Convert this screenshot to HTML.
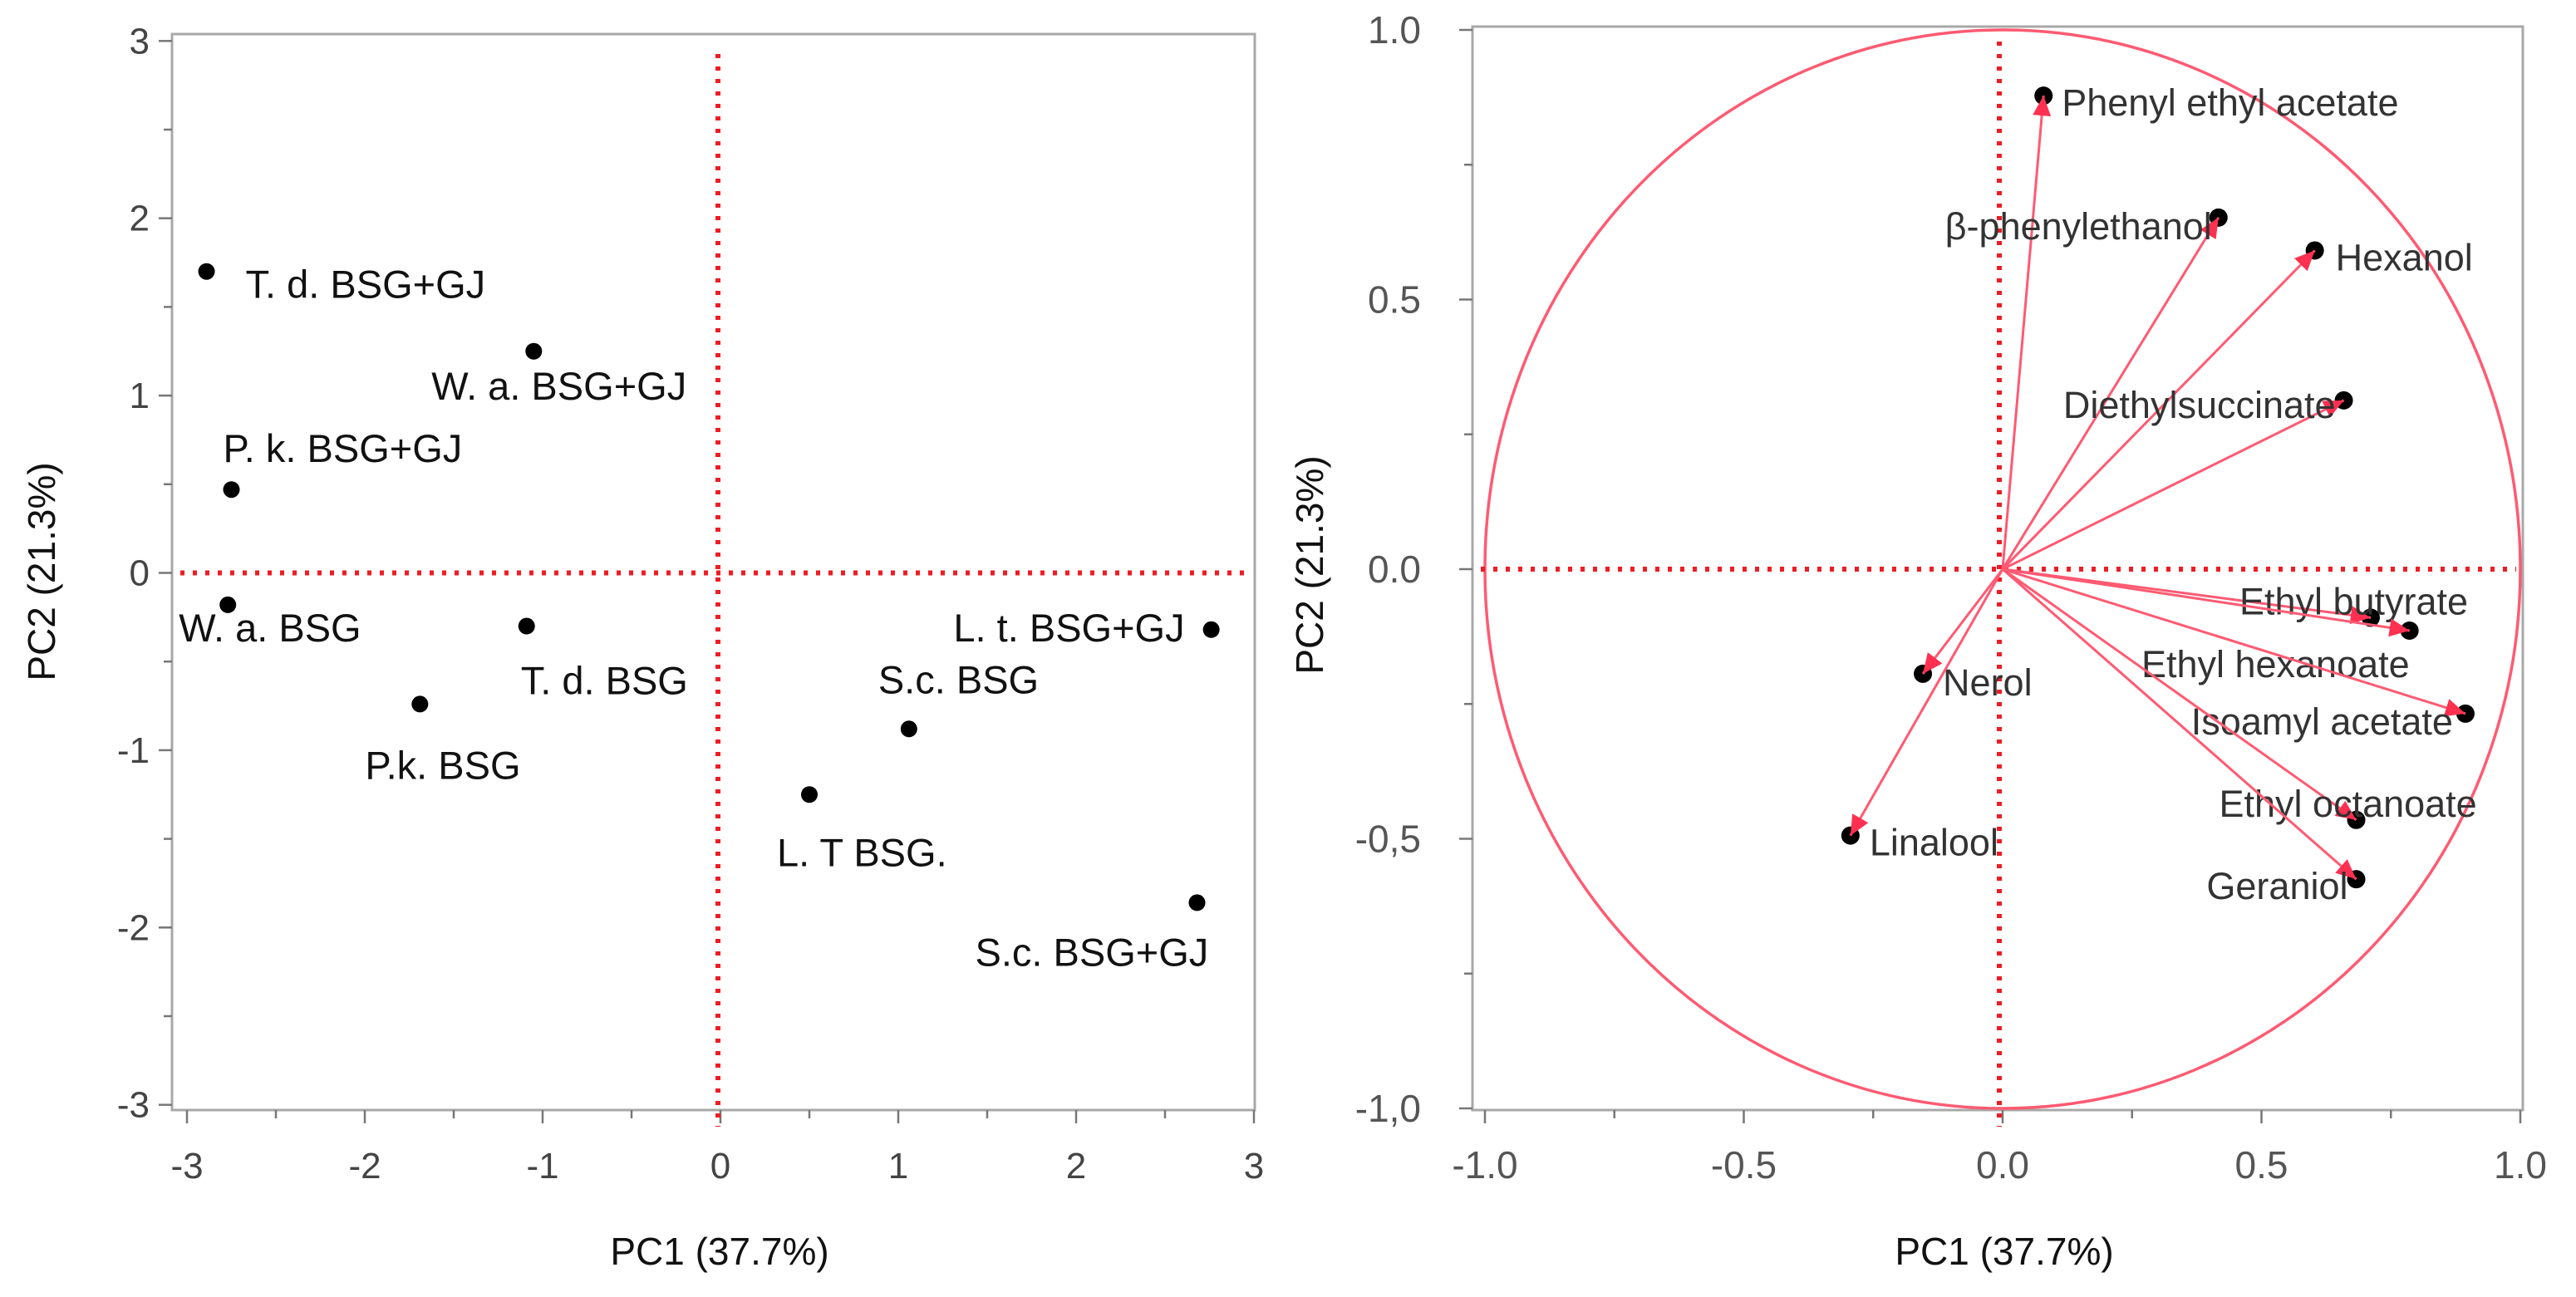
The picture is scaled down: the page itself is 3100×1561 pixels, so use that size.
<!DOCTYPE html>
<html><head><meta charset="utf-8"><style>
html,body{margin:0;padding:0;background:#fff;width:3100px;height:1561px;overflow:hidden}
svg{display:block}
text{font-family:"Liberation Sans",sans-serif}
</style></head><body>
<svg id="root" width="3100" height="1561" viewBox="0 0 3100 1561" xmlns="http://www.w3.org/2000/svg">
<g id="left"></g>
<g id="right"></g>
</svg>
<script>
// ---- Score plot data ----
const sampleNames = ["T. d. BSG+GJ","W. a. BSG+GJ","P. k. BSG+GJ","W. a. BSG","T. d. BSG","P.k. BSG","L. t. BSG+GJ","S.c. BSG","L. T BSG.","S.c. BSG+GJ"];
const samplePC1 = [-2.89,-1.05,-2.75,-2.77,-1.09,-1.69,2.76,1.06,0.50,2.68];
const samplePC2 = [1.70,1.25,0.47,-0.18,-0.30,-0.74,-0.32,-0.88,-1.25,-1.86];
const scoreTicks = [-3,-2,-1,0,1,2,3];
// ---- Loading plot data ----
const varNames = ["Phenyl ethyl acetate","β-phenylethanol","Hexanol","Diethylsuccinate","Ethyl butyrate","Ethyl hexanoate","Isoamyl acetate","Ethyl octanoate","Geraniol","Nerol","Linalool"];
const varPC1 = [0.079,0.417,0.603,0.659,0.711,0.786,0.894,0.683,0.683,-0.154,-0.294];
const varPC2 = [0.878,0.652,0.591,0.313,-0.090,-0.114,-0.268,-0.465,-0.575,-0.194,-0.494];
const loadTickVals = [-1,-0.5,0,0.5,1];
const loadXTickLabels = ["-1.0","-0.5","0.0","0.5","1.0"];
const loadYTickLabels = ["-1,0","-0,5","0.0","0.5","1.0"];

// label layout (offsets in px from marker; not data)
const sLab = [[47,16,"start"],[-123,42,"start"],[-10,-49,"start"],[-59,28,"start"],[-7,66,"start"],[-66,74,"start"],[-32,-2,"end"],[-37,-59,"start"],[-39,70,"start"],[-267,60,"start"]];
const vLab = [[22,8,"start"],[-8,10,"end"],[25,8,"start"],[-10,5,"end"],[-158,-20,"start"],[0,40,"end"],[-15,9,"end"],[-165,-20,"start"],[-10,8,"end"],[24,10,"start"],[23,8,"start"]];

const NS="http://www.w3.org/2000/svg";
function mk(parent,tag,attrs,txt){const e=document.createElementNS(NS,tag);for(const k in attrs)e.setAttribute(k,attrs[k]);if(txt!==undefined)e.textContent=txt;parent.appendChild(e);return e;}

// ---------- LEFT ----------
(function(){
const g=document.getElementById('left');
const L=207,T=41,R=1510,B=1336;
const sx=v=>867+v*214, sy=v=>689.5-v*213.4;
let fr=mk(g,'rect',{x:L,y:T,width:R-L,height:B-T,fill:'none',stroke:'#a8a8a8','stroke-width':3});


for(let v=-3;v<=3.001;v+=0.5){
  const major=Math.abs(v-Math.round(v))<1e-6;
  mk(g,'line',{x1:sx(v),x2:sx(v),y1:B,y2:B+(major?16:10),stroke:'#777','stroke-width':2.5});
  mk(g,'line',{y1:sy(v),y2:sy(v),x1:L,x2:L-(major?16:10),stroke:'#777','stroke-width':2.5});
}
scoreTicks.forEach(v=>{
  let t=mk(g,'text',{x:sx(v),y:1418,'font-size':44,fill:'#444','text-anchor':'middle'},String(v));
  
  
  let u=mk(g,'text',{x:180,y:sy(v)+15,'font-size':44,fill:'#444','text-anchor':'end'},String(v));
  
  
});
let vl=mk(g,'line',{x1:sx(0)-3,x2:sx(0)-3,y1:65,y2:B+20,stroke:'#ee1c25','stroke-width':6,'stroke-dasharray':'5 10'});


let hl=mk(g,'line',{x1:L+10,x2:R-10,y1:sy(0),y2:sy(0),stroke:'#ee1c25','stroke-width':6,'stroke-dasharray':'5 10'});


sampleNames.forEach((n,i)=>{
  const x=sx(samplePC1[i]),y=sy(samplePC2[i]);
  let c=mk(g,'circle',{cx:x,cy:y,r:10,fill:'#000'});
  
  
  const o=sLab[i];
  let t=mk(g,'text',{x:x+o[0],y:y+o[1]+16,'font-size':47,fill:'#111','text-anchor':o[2]},n);
  
  
});
let xt=mk(g,'text',{x:866,y:1522,'font-size':46,fill:'#111','text-anchor':'middle'},'PC1 (37.7%)');


let yt=mk(g,'text',{x:0,y:0,'font-size':46,fill:'#111','text-anchor':'middle',transform:'translate(66,688) rotate(-90)'},'PC2 (21.3%)');


})();

// ---------- RIGHT ----------
(function(){
const g=document.getElementById('right');
const L=1772,T=32,R=3036,B=1336;
const sx=v=>2410+v*623, sy=v=>685-v*649;
let fr=mk(g,'rect',{x:L,y:T,width:R-L,height:B-T,fill:'none',stroke:'#a8a8a8','stroke-width':3});


for(let v=-1;v<=1.001;v+=0.25){
  const major=Math.abs(v*2-Math.round(v*2))<1e-6;
  mk(g,'line',{x1:sx(v),x2:sx(v),y1:B,y2:B+(major?16:10),stroke:'#777','stroke-width':2.5});
  mk(g,'line',{y1:sy(v),y2:sy(v),x1:L,x2:L-(major?16:10),stroke:'#777','stroke-width':2.5});
}
loadTickVals.forEach((v,i)=>{
  let t=mk(g,'text',{x:sx(v),y:1418,'font-size':46,fill:'#555','text-anchor':'middle'},loadXTickLabels[i]);
  
  
  let u=mk(g,'text',{x:1710,y:sy(v)+16,'font-size':46,fill:'#555','text-anchor':'end'},loadYTickLabels[i]);
  
  
});
let circ=mk(g,'ellipse',{cx:sx(0),cy:sy(0),rx:623,ry:649,fill:'none',stroke:'#ff5a72','stroke-width':3.5});


let vl=mk(g,'line',{x1:sx(0)-4,x2:sx(0)-4,y1:50,y2:B+20,stroke:'#ee1c25','stroke-width':6,'stroke-dasharray':'5 10'});


let hl=mk(g,'line',{x1:L+10,x2:R-8,y1:sy(0),y2:sy(0),stroke:'#ee1c25','stroke-width':6,'stroke-dasharray':'5 10'});


varNames.forEach((n,i)=>{
  const x=sx(varPC1[i]),y=sy(varPC2[i]);
  const ox=sx(0),oy=sy(0);
  let c=mk(g,'circle',{cx:x,cy:y,r:11,fill:'#000'});
  
  
  let ln=mk(g,'line',{x1:ox,y1:oy,x2:x,y2:y,stroke:'#ff5a72','stroke-width':3});
  
  
  const ang=Math.atan2(y-oy,x-ox),h=24,w=11;
  const bx=x-h*Math.cos(ang),by=y-h*Math.sin(ang);
  const px=-Math.sin(ang)*w,py=Math.cos(ang)*w;
  let ah=mk(g,'polygon',{points:`${x},${y} ${bx+px},${by+py} ${bx-px},${by-py}`,fill:'#ff3050'});
  
  
  const o=vLab[i];
  let t=mk(g,'text',{x:x+o[0],y:y+o[1]+16,'font-size':45,fill:'#333','text-anchor':o[2]},n);
  
  
});
let xt=mk(g,'text',{x:2412,y:1522,'font-size':46,fill:'#111','text-anchor':'middle'},'PC1 (37.7%)');


let yt=mk(g,'text',{x:0,y:0,'font-size':46,fill:'#111','text-anchor':'middle',transform:'translate(1592,680) rotate(-90)'},'PC2 (21.3%)');


})();
</script>
</body></html>
